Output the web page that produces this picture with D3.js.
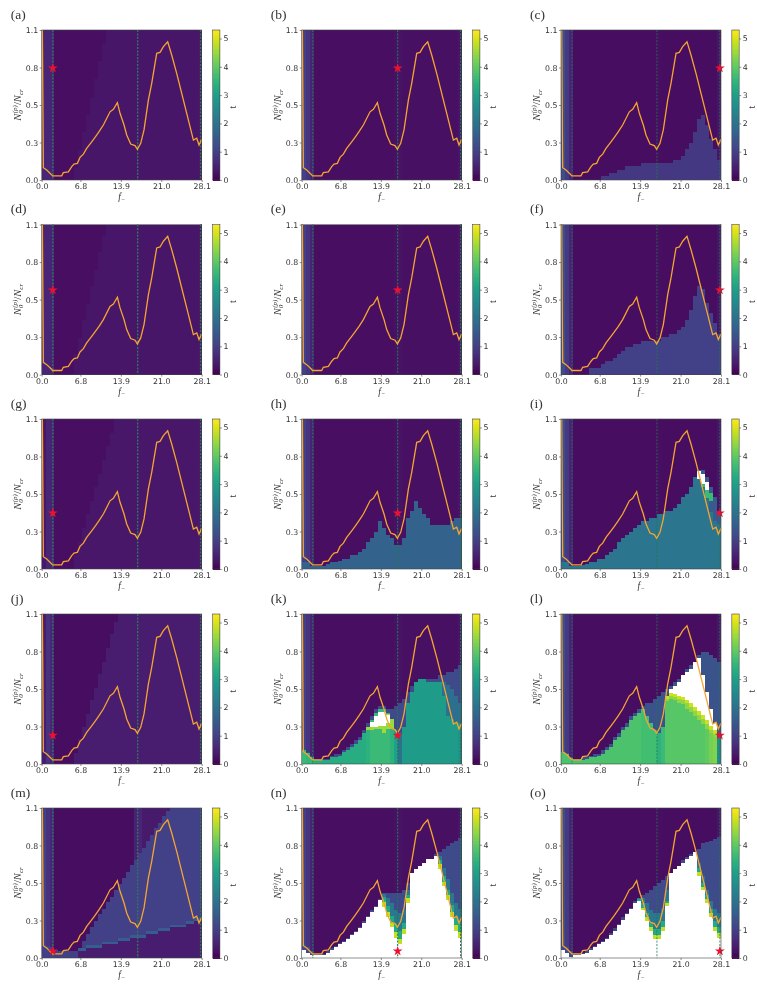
<!DOCTYPE html>
<html>
<head>
<meta charset="utf-8">
<script src="https://cdn.jsdelivr.net/npm/d3@7"></script>
<style>
  body { margin: 0; background: #fff; }
  svg { display: block; filter: blur(0.6px); }
  text { font-family: "DejaVu Sans", sans-serif; fill: #333; }
  .serif { font-family: "Liberation Serif", "DejaVu Serif", serif; }
</style>
</head>
<body>
<div class="chart"></div>
<script>
// Tick labels and panel names
var panelNames = ["(a)", "(b)", "(c)", "(d)", "(e)", "(f)", "(g)", "(h)", "(i)", "(j)", "(k)", "(l)", "(m)", "(n)", "(o)"];
var xTicks = [0, 6.8, 13.9, 21.0, 28.1];
var yTicks = [0, 0.275, 0.55, 0.825, 1.1];
var yTickLabels = ["0.0", "0.3", "0.5", "0.8", "1.1"];
var colorTicks = [0, 1, 2, 3, 4, 5];

// Orange curve
var curveF = [0.12, 0.29, 0.88, 1.46, 1.93, 3.51, 3.8, 4.68, 5.27, 5.68, 6.26, 6.73, 7.32, 7.9, 8.78, 9.37, 10.07, 10.83, 12.0, 12.59, 13.29, 13.76, 14.46, 14.93, 15.63, 16.39, 16.8, 17.39, 17.97, 18.74, 19.32, 20.2, 20.78, 21.37, 22.13, 22.83, 23.71, 24.59, 25.47, 26.64, 27.23, 27.63, 28.1];
var curveN = [1.1, 0.09, 0.073, 0.05, 0.03, 0.03, 0.054, 0.06, 0.098, 0.117, 0.122, 0.166, 0.19, 0.232, 0.28, 0.313, 0.354, 0.403, 0.5, 0.518, 0.567, 0.489, 0.403, 0.33, 0.264, 0.252, 0.225, 0.269, 0.367, 0.587, 0.709, 0.929, 0.936, 0.978, 1.014, 0.917, 0.782, 0.635, 0.489, 0.293, 0.306, 0.257, 0.298];

// Dashed lines and the red star of each panel
var dashF = [1.95, 16.85, 27.9];
var starF = [1.95, 16.85, 27.9];
var starN = [0.82, 0.62, 0.41, 0.21, 0.05];

// Background t per frequency column (40 columns)
var baseFaint = [0.55, 0.55, 0.5, 0.2, 0.2, 0.2, 0.2, 0.2, 0.2, 0.2, 0.2, 0.2, 0.2, 0.2, 0.2, 0.2, 0.2, 0.2, 0.2, 0.2, 0.2, 0.2, 0.2, 0.5, 0.55, 0.34, 0.34, 0.34, 0.34, 0.34, 0.34, 0.34, 0.34, 0.34, 0.34, 0.34, 0.34, 0.34, 0.34, 0.5];
var baseStrong = [1.0, 0.75, 0.55, 0.18, 0.18, 0.18, 0.18, 0.18, 0.18, 0.18, 0.18, 0.18, 0.18, 0.18, 0.18, 0.18, 0.18, 0.18, 0.18, 0.18, 0.18, 0.18, 0.18, 0.5, 0.55, 0.36, 0.36, 0.36, 0.36, 0.36, 0.36, 0.36, 0.36, 0.36, 0.36, 0.36, 0.36, 0.36, 0.36, 0.5];
var baseDark = [1.0, 0.8, 0.5, 0.2, 0.2, 0.2, 0.2, 0.2, 0.2, 0.2, 0.2, 0.2, 0.2, 0.2, 0.2, 0.2, 0.2, 0.2, 0.2, 0.2, 0.2, 0.2, 0.2, 0.24, 0.26, 0.22, 0.22, 0.22, 0.22, 0.22, 0.22, 0.22, 0.22, 0.22, 0.22, 0.22, 0.22, 0.22, 0.22, 0.3];
var baseRight = [1.25, 0.9, 0.5, 0.18, 0.18, 0.18, 0.18, 0.18, 0.18, 0.18, 0.18, 0.18, 0.18, 0.18, 0.18, 0.18, 0.18, 0.18, 0.18, 0.18, 0.18, 0.18, 0.18, 0.18, 0.2, 0.18, 0.18, 0.18, 0.18, 0.18, 0.18, 0.18, 0.18, 0.18, 0.18, 0.18, 0.18, 0.18, 0.18, 0.3];

// Faint wedges of the left column panels (start at column 8)
var wedgeA = [0.09, 0.22, 0.35, 0.48, 0.6, 0.74, 0.87, 1.0, 1.1];
var wedgeD = [0.15, 0.27, 0.4, 0.52, 0.65, 0.77, 0.9, 1.02, 1.1];
var wedgeG = [0.1, 0.2, 0.3, 0.4, 0.5, 0.6, 0.7, 0.8, 0.9, 1.0, 1.1];
var wedgeJ = [0.08, 0.18, 0.27, 0.37, 0.47, 0.56, 0.66, 0.75, 0.85, 0.95, 1.04, 1.1];

// Upper edge of each coloured region, one value per column
var topC = [0, 0, 0, 0, 0, 0, 0, 0, 0, 0, 0.03, 0.03, 0.05, 0.05, 0.075, 0.075, 0.1, 0.1, 0.1, 0.1, 0.125, 0.125, 0.125, 0.125, 0.125, 0.125, 0.125, 0.125, 0.15, 0.15, 0.175, 0.225, 0.275, 0.35, 0.45, 0.475, 0.4, 0.3, 0.225, 0.15];
var topF = [0, 0, 0, 0, 0, 0, 0, 0.05, 0.05, 0.05, 0.075, 0.1, 0.1, 0.125, 0.15, 0.175, 0.2, 0.2, 0.225, 0.225, 0.25, 0.25, 0.25, 0.25, 0.25, 0.275, 0.275, 0.3, 0.3, 0.325, 0.35, 0.4, 0.475, 0.575, 0.65, 0.625, 0.525, 0.45, 0.375, 0.3];
var topH = [0.05, 0.05, 0.025, 0.025, 0.025, 0.025, 0.04, 0.05, 0.05, 0.06, 0.075, 0.075, 0.1, 0.1, 0.125, 0.15, 0.2, 0.225, 0.275, 0.35, 0.3, 0.25, 0.225, 0.175, 0.175, 0.225, 0.375, 0.425, 0.5, 0.45, 0.4, 0.375, 0.325, 0.325, 0.325, 0.325, 0.325, 0.35, 0.375, 0.375];
var topIBlue = [0.05, 0.05, 0.025, 0.025, 0.025, 0.03, 0.04, 0.05, 0.05, 0.075, 0.075, 0.1, 0.125, 0.15, 0.2, 0.225, 0.25, 0.275, 0.3, 0.325, 0.35, 0.35, 0.375, 0.375, 0.4, 0.4, 0.425, 0.425, 0.45, 0.475, 0.525, 0.55, 0.6, 0.675, 0.725, 0.725, 0.675, 0.6, 0.525, 0.425];
var topITeal = [0.05, 0.05, 0.025, 0.025, 0.025, 0.03, 0.04, 0.05, 0.05, 0.075, 0.075, 0.1, 0.125, 0.15, 0.2, 0.225, 0.25, 0.275, 0.3, 0.325, 0.35, 0.35, 0.375, 0.375, 0.4, 0.4, 0.425, 0.425, 0.45, 0.475, 0.525, 0.55, 0.6, 0.675, 0.7, 0.62, 0.55, 0.42, 0.35, 0.33];
var topIWhite = [0.72, 0.7, 0.64];
var botIWhite = [0.66, 0.62, 0.58];
var topIGreen = [0.66, 0.62, 0.56];
var botIGreen = [0.6, 0.52, 0.5];

var kBlue = [0.11, 0.09, 0.06, 0.04, 0.04, 0.04, 0.04, 0.06, 0.075, 0.075, 0.1, 0.125, 0.15, 0.175, 0.2, 0.25, 0.3, 0.35, 0.4, 0.425, 0.425, 0.4, 0.4, 0.425, 0.45, 0.475, 0.525, 0.575, 0.6, 0.625, 0.625, 0.625, 0.625, 0.625, 0.65, 0.65, 0.675, 0.675, 0.7, 0.725];
var kMid = [0.6, 0.6, 0.58, 0.55, 0.5, 0.45];
var kGreen = [0.1, 0.08, 0.05, 0.03, 0.03, 0.03, 0.03, 0.05, 0.05, 0.06, 0.09, 0.1, 0.125, 0.15, 0.175, 0.225, 0.275, 0.325, 0.375, 0.4, 0.4, 0.375, 0.3, 0.25, 0.225, 0.275, 0.45, 0.525, 0.6, 0.625, 0.625, 0.6, 0.6, 0.6, 0.6, 0.5, 0.35, 0.33, 0.3, 0.3];
var kGreenVal = [3.6, 3.5, 3.5, 3.3, 3.3, 3.3, 3.3, 3.3, 3.3, 3.3, 3.3, 3.3, 3.3, 3.3, 3.3, 3.3, 3.4, 3.6, 3.6, 3.6, 3.6, 3.6, 3.4, 3.0, 2.0, 2.9, 2.9, 2.9, 2.9, 2.9, 2.9, 2.9, 2.9, 2.9, 2.9, 2.9, 2.9, 2.9, 2.9, 2.7];
var kYellowTop = [0.27, 0.3, 0.34, 0.36, 0.38, 0.37, 0.33];
var kYellowBot = [0.25, 0.25, 0.26, 0.26, 0.23, 0.26, 0.26];
var kWhiteTop = [0.31, 0.35, 0.38, 0.385, 0.36];
var kWhiteBot = [0.27, 0.27, 0.28, 0.28, 0.3];

var lBlue = [0.1, 0.08, 0.05, 0.04, 0.04, 0.05, 0.05, 0.06, 0.075, 0.075, 0.1, 0.125, 0.15, 0.2, 0.225, 0.275, 0.3, 0.35, 0.375, 0.4, 0.425, 0.45, 0.45, 0.475, 0.5, 0.525, 0.55, 0.575, 0.6, 0.625, 0.65, 0.7, 0.725, 0.75, 0.8, 0.825, 0.825, 0.8, 0.775, 0.75];
var lWhite = [0.5, 0.55, 0.575, 0.6, 0.65, 0.675, 0.7, 0.75, 0.775, 0.65, 0.525, 0.4, 0.3];
var lYellow = [0.5, 0.52, 0.51, 0.5, 0.49, 0.47, 0.45, 0.42, 0.39, 0.36, 0.32, 0.28, 0.25];
var lLime = [0.48, 0.5, 0.49, 0.48, 0.47, 0.45, 0.42, 0.39, 0.36, 0.33, 0.29, 0.25, 0.22];
var lGreen = [0.09, 0.07, 0.045, 0.03, 0.03, 0.03, 0.04, 0.05, 0.05, 0.06, 0.075, 0.1, 0.125, 0.175, 0.2, 0.25, 0.275, 0.325, 0.35, 0.375, 0.4, 0.35, 0.3, 0.25, 0.225, 0.275, 0.46, 0.48, 0.47, 0.45, 0.44, 0.4, 0.38, 0.35, 0.32, 0.29, 0.26, 0.23, 0.2, 0.2];
var lGreenVal = [3.8, 3.8, 3.8, 3.8, 3.8, 3.8, 3.8, 3.8, 3.8, 3.8, 3.8, 3.8, 3.8, 3.8, 3.8, 3.8, 3.8, 3.8, 3.8, 3.8, 3.7, 3.7, 3.7, 3.7, 3.4, 3.6, 3.9, 3.9, 3.9, 3.9, 3.9, 3.9, 3.9, 3.9, 3.9, 3.9, 4.0, 4.2, 4.3, 2.6];

var mBlue = [0.1, 0.09, 0.08, 0.06, 0.05, 0.05, 0.05, 0.05, 0.05, 0.075, 0.125, 0.175, 0.225, 0.27, 0.32, 0.36, 0.41, 0.45, 0.5, 0.54, 0.59, 0.63, 0.68, 0.72, 0.77, 0.81, 0.86, 0.9, 0.95, 0.99, 1.04, 1.08, 1.1, 1.1, 1.1, 1.1, 1.1, 1.1, 1.1, 1.1];
var mStreakTop = [0.07, 0.07, 0.095, 0.095, 0.095, 0.095, 0.12, 0.12, 0.12, 0.12, 0.145, 0.145, 0.145, 0.17, 0.17, 0.17, 0.17, 0.195, 0.195, 0.195, 0.22, 0.22, 0.22, 0.245, 0.245, 0.245, 0.245, 0.27, 0.27, 0.295, 0.295];
var mStreakBot = [0.05, 0.05, 0.075, 0.075, 0.075, 0.075, 0.1, 0.1, 0.1, 0.1, 0.125, 0.125, 0.125, 0.15, 0.15, 0.15, 0.15, 0.175, 0.175, 0.175, 0.2, 0.2, 0.2, 0.225, 0.225, 0.225, 0.225, 0.25, 0.25, 0.275, 0.275];

var nBlue = [0.1, 0.08, 0.05, 0.03, 0.03, 0.03, 0.05, 0.07, 0.09, 0.11, 0.125, 0.15, 0.175, 0.2, 0.225, 0.27, 0.31, 0.35, 0.38, 0.43, 0.475, 0.475, 0.475, 0.475, 0.475, 0.5, 0.55, 0.625, 0.65, 0.675, 0.7, 0.725, 0.725, 0.76, 0.78, 0.8, 0.82, 0.84, 0.86, 0.88];
var nWhite = [0.06, 0.04, 0.02, 0.02, 0.02, 0.02, 0.04, 0.06, 0.08, 0.1, 0.12, 0.14, 0.17, 0.19, 0.22, 0.26, 0.3, 0.34, 0.375, 0.425, 0.375, 0.3, 0.225, 0.15, 0.1, 0.175, 0.4, 0.625, 0.65, 0.675, 0.7, 0.725, 0.725, 0.75, 0.65, 0.525, 0.425, 0.3, 0.2, 0.15];
var nTealLeft = [0.47, 0.44, 0.4, 0.35, 0.33, 0.35, 0.5];
var nGreenLeft = [0.45, 0.38, 0.31, 0.25, 0.2, 0.26, 0.46];
var nYellowLeft = [0.41, 0.34, 0.26, 0.19, 0.14, 0.21, 0.44];
var nTealRight = [0.75, 0.66, 0.58, 0.48, 0.4, 0.36];
var nGreenRight = [0.72, 0.6, 0.5, 0.39, 0.3, 0.26];
var nYellowRight = [0.69, 0.56, 0.46, 0.34, 0.24, 0.19];

var oBlue = [0.1, 0.08, 0.05, 0.03, 0.03, 0.04, 0.05, 0.07, 0.09, 0.11, 0.125, 0.15, 0.18, 0.22, 0.25, 0.3, 0.33, 0.37, 0.42, 0.44, 0.46, 0.475, 0.5, 0.525, 0.55, 0.575, 0.6, 0.625, 0.65, 0.675, 0.72, 0.74, 0.76, 0.78, 0.8, 0.84, 0.85, 0.86, 0.875, 0.89];
var oWhite = [0.06, 0.04, 0.01, 0.02, 0.02, 0.03, 0.04, 0.06, 0.08, 0.1, 0.12, 0.14, 0.17, 0.2, 0.24, 0.28, 0.32, 0.36, 0.4, 0.42, 0.35, 0.27, 0.2, 0.14, 0.14, 0.2, 0.38, 0.625, 0.65, 0.675, 0.7, 0.725, 0.75, 0.775, 0.6, 0.5, 0.4, 0.3, 0.2, 0.15];
var oTealLeft = [0.44, 0.44, 0.4, 0.35, 0.33, 0.33, 0.37, 0.5];
var oGreenLeft = [0.43, 0.4, 0.33, 0.26, 0.21, 0.21, 0.27, 0.42];
var oYellowLeft = [0.42, 0.37, 0.3, 0.23, 0.17, 0.17, 0.23, 0.4];
var oTealRight = [0.7, 0.6, 0.5, 0.42, 0.36, 0.33];
var oGreenRight = [0.66, 0.55, 0.46, 0.36, 0.27, 0.23];
var oYellowRight = [0.63, 0.52, 0.43, 0.33, 0.23, 0.18];

// Which regions each panel paints: tops, t value, first column, optional bottoms
var panelBases = [baseFaint, baseDark, baseRight, baseFaint, baseDark, baseRight, baseFaint, baseDark, baseRight, baseStrong, baseDark, baseRight, baseStrong, baseDark, baseRight];
var panelLayers = [
  [{ top: wedgeA, t: 0.3, from: 8 }, { top: wedgeFill(wedgeA.length), t: 0.3, from: 17 }],
  [],
  [{ top: topC, t: 0.85 }],
  [{ top: wedgeD, t: 0.29, from: 8 }, { top: wedgeFill(wedgeD.length), t: 0.29, from: 17 }],
  [],
  [{ top: topF, t: 1.0 }],
  [{ top: wedgeG, t: 0.33, from: 8 }, { top: wedgeFill(wedgeG.length - 2), t: 0.33, from: 19 }],
  [{ top: topH, t: 1.65 }],
  [{ top: topIBlue, t: 1.5 }, { top: topITeal, t: 2.05 }, { top: topIGreen, bot: botIGreen, t: 3.6, from: 35 }, { top: topIWhite, bot: botIWhite, t: 9, from: 34 }],
  [{ top: wedgeJ, t: 0.4, from: 8 }, { top: wedgeFill(wedgeJ.length - 3), t: 0.4, from: 20 }],
  [{ top: kBlue, t: 1.2 }, { top: kMid, t: 1.9, from: 34 }, { top: kGreen, t: kGreenVal }, { top: kYellowTop, bot: kYellowBot, t: 4.5, from: 16 }, { top: kWhiteTop, bot: kWhiteBot, t: 9, from: 17 }],
  [{ top: lBlue, t: 1.35 }, { top: lWhite, t: 9, from: 26 }, { top: lYellow, t: 4.9, from: 26 }, { top: lLime, t: 4.4, from: 26 }, { top: lGreen, t: lGreenVal }],
  [{ top: mBlue, t: 1.0 }, { top: mStreakBot, t: 0.42, from: 9 }, { top: mStreakTop, bot: mStreakBot, t: 1.55, from: 9 }],
  [{ top: nBlue, t: 1.2 }, { top: nTealLeft, t: 2.1, from: 20 }, { top: nTealRight, t: 2.1, from: 34 }, { top: nGreenLeft, t: 3.2, from: 20 }, { top: nGreenRight, t: 3.2, from: 34 }, { top: nYellowLeft, t: 4.8, from: 20 }, { top: nYellowRight, t: 4.8, from: 34 }, { top: nWhite, t: 9 }],
  [{ top: oBlue, t: 1.2 }, { top: oTealLeft, t: 2.1, from: 19 }, { top: oTealRight, t: 2.1, from: 34 }, { top: oGreenLeft, t: 3.2, from: 19 }, { top: oGreenRight, t: 3.2, from: 34 }, { top: oYellowLeft, t: 4.8, from: 19 }, { top: oYellowRight, t: 4.8, from: 34 }, { top: oWhite, t: 9 }]
];

// The wedges reach the top of the panel past their last listed column
function wedgeFill(n) {
  return d3.range(40 - 8 - n).map(() => 1.1);
}

// Layout
var svgWidth = 757;
var svgHeight = 985;
var panelWidth = 160;
var panelHeight = 150;
var colLeft = [41.7, 301.7, 561];
var rowTop = [30, 224.6, 419, 614, 808];

var svg = d3.select(".chart")
  .append("svg")
  .attr("width", svgWidth)
  .attr("height", svgHeight);

// Shared scales
var tMax = 5.3;
var xScale = d3.scaleLinear().domain([0, 28.1]).range([0, panelWidth]);
var yScale = d3.scaleLinear().domain([0, 1.1]).range([panelHeight, 0]);
var colScale = d3.scaleBand().domain(d3.range(40)).range([0, panelWidth]);
var colorScale = d3.scaleSequential(d3.interpolateViridis).domain([0, tMax]);
var barScale = d3.scaleLinear().domain([0, tMax]).range([panelHeight, 0]);
var curveLine = d3.line().x(d => xScale(d[0])).y(d => yScale(d[1]));
var curvePoints = d3.zip(curveF, curveN);

function cellColor(t) {
  return t > tMax ? "#fff" : colorScale(t);
}

function drawLayer(g, layer) {
  var from = layer.from || 0;
  var cells = layer.top.map((top, i) => ({
    col: from + i,
    top: top,
    bot: layer.bot ? layer.bot[i] : 0,
    t: Array.isArray(layer.t) ? layer.t[from + i] : layer.t
  })).filter(d => d.top > d.bot);

  g.append("g")
    .selectAll("rect")
    .data(cells)
    .enter()
    .append("rect")
    .attr("x", d => colScale(d.col))
    .attr("y", d => yScale(d.top))
    .attr("width", colScale.bandwidth())
    .attr("height", d => yScale(d.bot) - yScale(d.top))
    .attr("fill", d => cellColor(d.t))
    .attr("shape-rendering", "crispEdges");
}

panelNames.forEach(function (name, p) {
  var row = Math.floor(p / 3);
  var col = p % 3;
  var g = svg.append("g")
    .attr("transform", `translate(${colLeft[col]}, ${rowTop[row]})`);

  // Heatmap
  var base = panelBases[p];
  drawLayer(g, { top: base.map(() => 1.1), t: base });
  panelLayers[p].forEach(layer => drawLayer(g, layer));

  // Dashed vertical lines
  g.append("g")
    .selectAll("line")
    .data(dashF)
    .enter()
    .append("line")
    .attr("x1", d => xScale(d))
    .attr("x2", d => xScale(d))
    .attr("y1", 0)
    .attr("y2", panelHeight)
    .attr("stroke", col === 0 ? "#2f7560" : "#1f7a50")
    .attr("stroke-width", col === 0 ? 1.4 : col === 1 ? 1.1 : 0.8)
    .attr("stroke-dasharray", "2,1.4");

  // Orange curve
  g.append("path")
    .datum(curvePoints)
    .attr("d", curveLine)
    .attr("fill", "none")
    .attr("stroke", "#f5a530")
    .attr("stroke-width", 1.3);

  // Red star
  g.append("path")
    .attr("d", d3.symbol().type(d3.symbolStar).size(30))
    .attr("transform", `translate(${xScale(starF[col])}, ${yScale(starN[row])})`)
    .attr("fill", "#ee1030");

  // Axes
  var xAxis = d3.axisBottom(xScale).tickValues(xTicks).tickSize(2).tickPadding(1.5).tickFormat(d3.format(".1f"));
  var yAxis = d3.axisLeft(yScale).tickValues(yTicks).tickSize(2).tickPadding(1.5).tickFormat((d, i) => yTickLabels[i]);

  g.append("g")
    .attr("transform", `translate(0, ${panelHeight})`)
    .call(xAxis)
    .call(styleAxis);
  g.append("g")
    .call(yAxis)
    .call(styleAxis);

  g.append("rect")
    .attr("width", panelWidth)
    .attr("height", panelHeight)
    .attr("fill", "none")
    .attr("stroke", "#444")
    .attr("stroke-width", 0.6);

  // Axis labels
  g.append("text")
    .attr("class", "serif")
    .attr("x", panelWidth / 2)
    .attr("y", panelHeight + 20)
    .attr("text-anchor", "middle")
    .style("font-size", "9.5px")
    .style("font-style", "italic")
    .html('f<tspan dy="1.5" font-size="6.5">−</tspan>');

  var yLabel = g.append("text")
    .attr("class", "serif")
    .attr("transform", `translate(-21, ${panelHeight / 2}) rotate(-90)`)
    .attr("text-anchor", "middle")
    .style("font-size", "10.5px")
    .style("font-style", "italic");
  yLabel.append("tspan").text("N");
  yLabel.append("tspan").attr("dy", 2).style("font-size", "7px").text("0");
  yLabel.append("tspan").attr("dy", -6).attr("dx", -3).style("font-size", "7px").text("(p)");
  yLabel.append("tspan").attr("dy", 4).style("font-style", "normal").text("/");
  yLabel.append("tspan").text("N");
  yLabel.append("tspan").attr("dy", 2).style("font-size", "7px").text("cr");

  // Panel letter
  svg.append("text")
    .attr("class", "serif")
    .attr("x", colLeft[col] - 31)
    .attr("y", rowTop[row] - 11.5)
    .style("font-size", "13.5px")
    .text(name);

  // Colorbar
  var bar = g.append("g")
    .attr("transform", `translate(${panelWidth + 10.8}, 0)`);
  bar.selectAll("rect")
    .data(d3.range(0, tMax, tMax / 75))
    .enter()
    .append("rect")
    .attr("y", d => barScale(d + tMax / 75))
    .attr("width", 7.4)
    .attr("height", panelHeight / 75 + 0.5)
    .attr("fill", d => colorScale(d))
    .attr("shape-rendering", "crispEdges");
  bar.append("rect")
    .attr("width", 7.4)
    .attr("height", panelHeight)
    .attr("fill", "none")
    .attr("stroke", "#444")
    .attr("stroke-width", 0.6);
  bar.append("g")
    .attr("transform", "translate(7.4, 0)")
    .call(d3.axisRight(barScale).tickValues(colorTicks).tickSize(2).tickPadding(1.5).tickFormat(d3.format("d")))
    .call(styleAxis);
  bar.append("text")
    .attr("class", "serif")
    .attr("transform", `translate(23, ${panelHeight / 2 + 2}) rotate(-90)`)
    .attr("text-anchor", "middle")
    .style("font-size", "10px")
    .text("t");
});

function styleAxis(sel) {
  sel.select(".domain").remove();
  sel.selectAll("line").attr("stroke", "#444").attr("stroke-width", 0.6);
  sel.selectAll("text").style("font-size", "7.8px").style("fill", "#333");
}
</script>
</body>
</html>
